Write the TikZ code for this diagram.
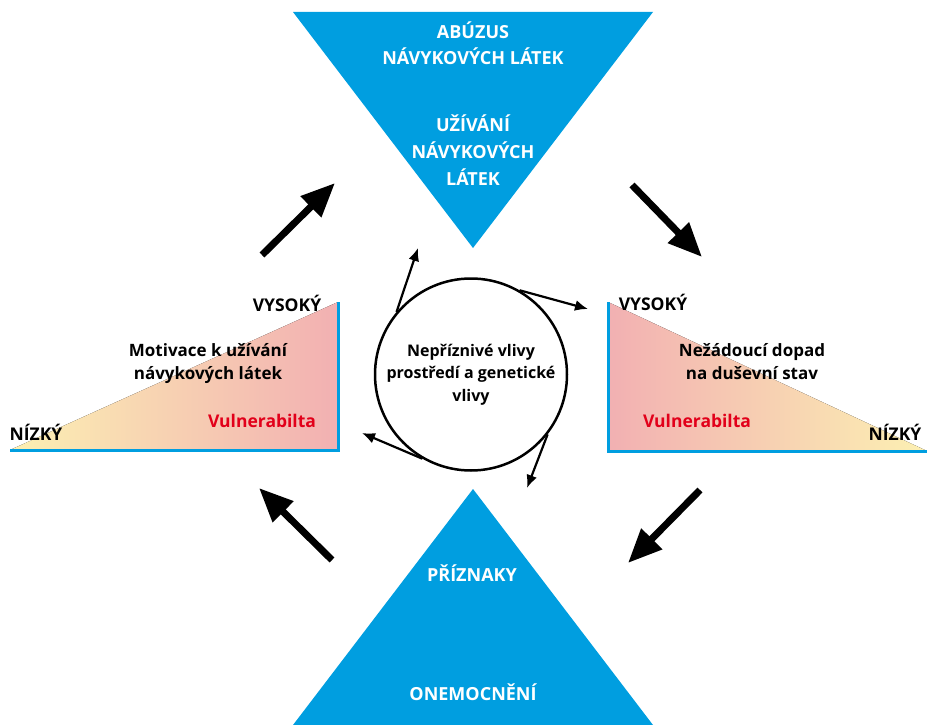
\documentclass[tikz,border=0pt]{standalone}
\usepackage{fontspec}
\setmainfont{Open Sans}
\usepackage{xcolor}
\usetikzlibrary{arrows.meta}
\definecolor{triblue}{RGB}{0,158,224}
\definecolor{lowyellow}{RGB}{252,240,178}
\definecolor{highpink}{RGB}{242,176,178}
\definecolor{vulnred}{RGB}{226,0,26}

\begin{document}
\begin{tikzpicture}[
  x=1pt, y=-1pt,
  tri/.style={fill=triblue},
  axisline/.style={draw=triblue, line width=3pt},
  trilabel/.style={text=white, font=\bfseries\fontsize{18}{26.7}\selectfont, align=center, anchor=base},
  lbl/.style={font=\bfseries\fontsize{17}{22.6}\selectfont, align=center, anchor=base},
  endlbl/.style={font=\bfseries\fontsize{17.5}{19}\selectfont, anchor=base},
  vuln/.style={lbl, text=vulnred, font=\bfseries\fontsize{17.5}{19}\selectfont},
  bigflow/.style={-{Triangle[length=34pt, width=28pt]}, line width=7pt},
  smallflow/.style={-{Latex[length=13pt, width=11pt]}, line width=2.2pt}
]
\useasboundingbox (0,0) rectangle (927,725);

% triangles
\fill[tri] (293,12) -- (653,12) -- (473,248) -- cycle;
\fill[tri] (473,489) -- (653,725) -- (293,725) -- cycle;
\node[trilabel] (abuzus) at (473,65) {ABÚZUS\\NÁVYKOVÝCH LÁTEK};
\node[trilabel] (uzivani) at (473,185) {UŽÍVÁNÍ\\NÁVYKOVÝCH\\LÁTEK};
\node[trilabel] (priznaky) at (472,581) {PŘÍZNAKY};
\node[trilabel] (onemocneni) at (473,700) {ONEMOCNĚNÍ};

% wedges
\fill[left color=lowyellow, right color=highpink] (10,450) -- (338,450) -- (338,302) -- cycle;
\draw[axisline] (10,450) -- (338,450) -- (338,302);
\fill[left color=highpink, right color=lowyellow] (608,302) -- (608,451) -- (927,451) -- cycle;
\draw[axisline] (608,302) -- (608,451) -- (927,451);

\node[endlbl] (vysokyL) at (287,311) {VYSOKÝ};
\node[endlbl] (nizkyL) at (36,440) {NÍZKÝ};
\node[lbl] (motivace) at (208,379.5) {Motivace k užívání\\návykových látek};
\node[vuln] (vulnL) at (262,427) {Vulnerabilta};

\node[endlbl] (vysokyR) at (653,310) {VYSOKÝ};
\node[endlbl] (nizkyR) at (895,440) {NÍZKÝ};
\node[lbl] (dopad) at (752,379.5) {Nežádoucí dopad\\na duševní stav};
\node[vuln] (vulnR) at (697,427) {Vulnerabilta};

% centre
\node[draw, circle, line width=2.5pt, minimum size=192pt, inner sep=0pt, align=center,
  font=\bfseries\fontsize{16}{22.6}\selectfont] (circ) at (471,374.5)
  {Nepříznivé vlivy\\prostředí a genetické\\vlivy};

\coordinate (tipA) at (418,248);
\coordinate (tipB) at (588,309);
\coordinate (tipC) at (362,433);
\coordinate (tipD) at (527,488);
\draw[smallflow] (circ.140) -- (tipA);
\draw[smallflow] (circ.60) -- (tipB);
\draw[smallflow] (circ.240) -- (tipC);
\draw[smallflow] (circ.322) -- (tipD);

% cycle arrows
\coordinate (ulA) at (262,255);
\coordinate (ulB) at (335,183);
\coordinate (urA) at (632,185);
\coordinate (urB) at (702,257);
\coordinate (lrA) at (700,490);
\coordinate (lrB) at (628,563);
\coordinate (llA) at (332,560);
\coordinate (llB) at (259,488);
\draw[bigflow] (ulA) -- (ulB);
\draw[bigflow] (urA) -- (urB);
\draw[bigflow] (lrA) -- (lrB);
\draw[bigflow] (llA) -- (llB);
\end{tikzpicture}
\end{document}
